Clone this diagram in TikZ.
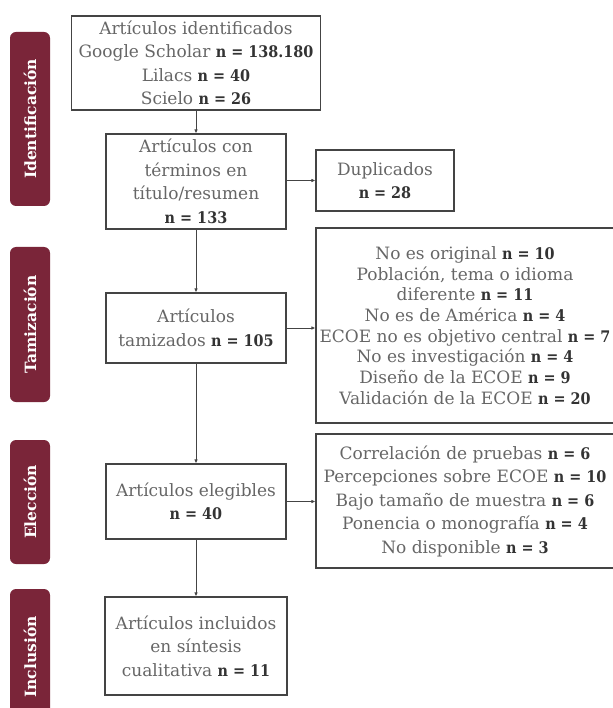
\documentclass[tikz,border=0pt]{standalone}
\usepackage{fontspec}
\setmainfont{DejaVu Serif}
\newfontfamily\nfont{DejaVu Serif Condensed}[Scale=0.94]
\usepackage{tikz}
\usepackage{xcolor}
\usetikzlibrary{arrows.meta,positioning}
\definecolor{phasered}{HTML}{7A2539}
\definecolor{txtgray}{HTML}{666666}
\definecolor{ndark}{HTML}{333333}
\definecolor{framegray}{HTML}{444444}
\newcommand{\nval}[1]{{\nfont\bfseries\color{ndark}n = #1}}

\begin{document}
\begin{tikzpicture}[
  x=1pt,y=-1pt,
  font=\fontsize{17}{23.5}\selectfont,
  box/.style={draw=framegray,line width=1.1pt,align=center,inner sep=2pt,text=txtgray},
  phase/.style={fill=phasered,rounded corners=6pt,rotate=90,minimum height=40pt,
    inner sep=0pt,text=white,font=\fontsize{15.5}{18}\selectfont\bfseries},
  ptr/.style={-{Latex[length=4pt,width=3.5pt]},line width=0.9pt,draw=framegray},
]
\useasboundingbox (0,0) rectangle (612,708);
% phases
\node[phase,minimum width=174pt] (pident) at (30,119)   {Identificación};
\node[phase,minimum width=155pt] (ptam)   at (30,324.5) {Tamización};
\node[phase,minimum width=124pt] (pelec)  at (30,502)   {Elección};
\node[phase,minimum width=136pt] (pincl)  at (30,657)   {Inclusión};
% main column
\node[box,minimum width=249pt,minimum height=94pt] (ident) at (196,63)
  {Artículos identificados\\Google Scholar \nval{138.180}\\Lilacs \nval{40}\\Scielo \nval{26}};
\node[box,minimum width=180pt,minimum height=95pt] (terms) at (196,181.5)
  {Artículos con\\términos en\\título/resumen\\\nval{133}};
\node[box,minimum width=180pt,minimum height=70pt] (tamiz) at (196,328)
  {Artículos\\tamizados \nval{105}};
\node[box,minimum width=180pt,minimum height=75pt] (eleg) at (196,501.5)
  {Artículos elegibles\\\nval{40}};
\node[box,minimum width=182pt,minimum height=98pt] (incl) at (196,646)
  {Artículos incluidos\\en síntesis\\cualitativa \nval{11}};
% exclusions
\node[box,minimum width=138pt,minimum height=61pt] (dup) at (385,180.5)
  {Duplicados\\\nval{28}};
\node[box,minimum width=298pt,minimum height=195pt,font=\fontsize{17}{20.7}\selectfont] (extam) at (465,325.5)
  {No es original \nval{10}\\Población, tema o idioma\\diferente \nval{11}\\No es de América \nval{4}\\
   ECOE no es objetivo central \nval{7}\\No es investigación \nval{4}\\Diseño de la ECOE \nval{9}\\
   Validación de la ECOE \nval{20}};
\node[box,minimum width=298pt,minimum height=134pt] (exeleg) at (465,501)
  {Correlación de pruebas \nval{6}\\Percepciones sobre ECOE \nval{10}\\Bajo tamaño de muestra \nval{6}\\
   Ponencia o monografía \nval{4}\\No disponible \nval{3}};
% arrows
\foreach \a/\b in {ident/terms,terms/tamiz,tamiz/eleg,eleg/incl}{
  \draw[ptr] (\a) -- (\b);
}
\draw[ptr] (terms.east |- dup) -- (dup.west);
\draw[ptr] (tamiz.east) -- (tamiz.east -| extam.west);
\draw[ptr] (eleg.east) -- (eleg.east -| exeleg.west);
\end{tikzpicture}
\end{document}
